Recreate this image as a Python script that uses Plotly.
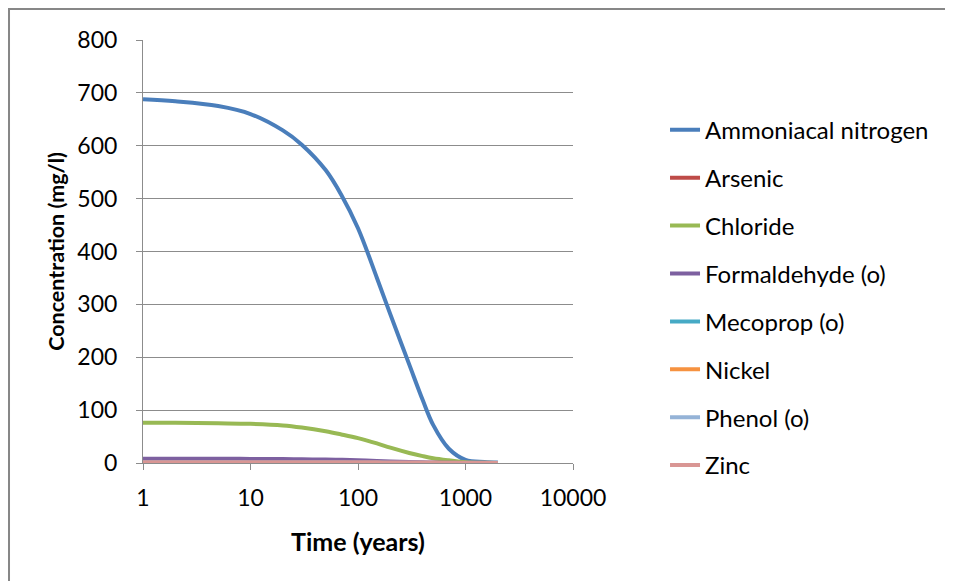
import plotly.graph_objects as go

time_years = [1, 2, 5, 10, 20, 30, 50, 70, 100, 150, 200, 300, 400, 500, 700, 1000, 1500, 2000]

ammoniacal_nitrogen = [688, 684, 675, 660, 629, 602, 554, 507, 444, 350, 281, 186, 119, 72, 27, 6, 2, 1]
arsenic = [0.1, 0.1, 0.1, 0.1, 0.1, 0.1, 0.1, 0.1, 0.1, 0.1, 0.1, 0.1, 0.05, 0.05, 0.05, 0.02, 0.01, 0.01]
chloride = [76, 76, 75, 74, 71, 67, 60, 54, 47, 37, 29, 19, 13, 9, 5, 1.5, 0.5, 0.2]
formaldehyde = [8, 8, 8, 7.8, 7.5, 7, 6.5, 6, 5, 4, 3, 2, 1.2, 0.8, 0.4, 0.1, 0, 0]
mecoprop = [0.5, 0.5, 0.5, 0.5, 0.5, 0.4, 0.4, 0.4, 0.3, 0.3, 0.2, 0.2, 0.1, 0.1, 0.05, 0.02, 0.01, 0]
nickel = [0.2, 0.2, 0.2, 0.2, 0.2, 0.2, 0.2, 0.2, 0.2, 0.15, 0.15, 0.1, 0.1, 0.08, 0.05, 0.03, 0.02, 0.01]
phenol = [1, 1, 1, 1, 1, 0.9, 0.9, 0.8, 0.7, 0.6, 0.5, 0.4, 0.3, 0.2, 0.1, 0.05, 0.02, 0.01]
zinc = [1.5, 1.5, 1.5, 1.5, 1.5, 1.4, 1.4, 1.3, 1.3, 1.2, 1.1, 1.0, 0.9, 0.8, 0.6, 0.4, 0.3, 0.2]

series_names = ["Ammoniacal nitrogen", "Arsenic", "Chloride", "Formaldehyde (o)",
                "Mecoprop (o)", "Nickel", "Phenol (o)", "Zinc"]
series_values = [ammoniacal_nitrogen, arsenic, chloride, formaldehyde,
                 mecoprop, nickel, phenol, zinc]
series_colors = ["#4A7EBB", "#BE4B48", "#98B954", "#7D60A0",
                 "#46AAC5", "#F69240", "#95B3D7", "#D99694"]

y_ticks = [0, 100, 200, 300, 400, 500, 600, 700, 800]
x_ticks = [1, 10, 100, 1000, 10000]

FONT = "Lato"
TICK_SIZE = 23
LEGEND_SIZE = 24

fig = go.Figure()
for i, (name, vals, col) in enumerate(zip(series_names, series_values, series_colors)):
    fig.add_trace(go.Scatter(
        x=time_years, y=vals, name=name, mode="lines",
        line=dict(color=col, width=4, shape="spline", smoothing=1.0),
        legendgroup=f"g{i}",
    ))

grid_col = "#8C8C8C"
fig.update_layout(
    width=945, height=573,
    margin=dict(l=135, r=380, t=32, b=118),
    paper_bgcolor="white", plot_bgcolor="white",
    font=dict(family=FONT, size=TICK_SIZE, color="black"),
    showlegend=True,
    legend=dict(
        x=1.214, xanchor="left", y=0.840, yanchor="top",
        font=dict(family=FONT, size=LEGEND_SIZE, color="black"),
        tracegroupgap=13.7, bgcolor="rgba(0,0,0,0)",
    ),
    xaxis=dict(
        type="log", range=[0, 4],
        tickvals=x_ticks, ticktext=[str(v) for v in x_ticks],
        showgrid=False, zeroline=False,
        showline=True, linecolor=grid_col, linewidth=1,
        ticks="outside", ticklen=6, tickcolor=grid_col,
        ticklabelstandoff=8,
        tickfont=dict(family=FONT, size=TICK_SIZE),
        title=dict(text="<b>Time (years)</b>", font=dict(family=FONT, size=25), standoff=23),
    ),
    yaxis=dict(
        range=[0, 800], tickvals=y_ticks,
        showgrid=True, gridcolor=grid_col, gridwidth=1,
        zeroline=False,
        showline=True, linecolor=grid_col, linewidth=1,
        ticks="outside", ticklen=6, tickcolor=grid_col,
        ticklabelstandoff=14,
        tickfont=dict(family=FONT, size=TICK_SIZE),
        title=dict(text="<b>Concentration (mg/l)</b>", font=dict(family=FONT, size=21.5), standoff=6),
    ),
    shapes=[dict(
        type="rect", xref="paper", yref="paper",
        x0=-0.3116, x1=2.0, y0=-0.5, y1=1.0733,
        line=dict(color="#878787", width=2), fillcolor="rgba(0,0,0,0)", layer="below",
    )],
)

fig.write_html("out.html")
